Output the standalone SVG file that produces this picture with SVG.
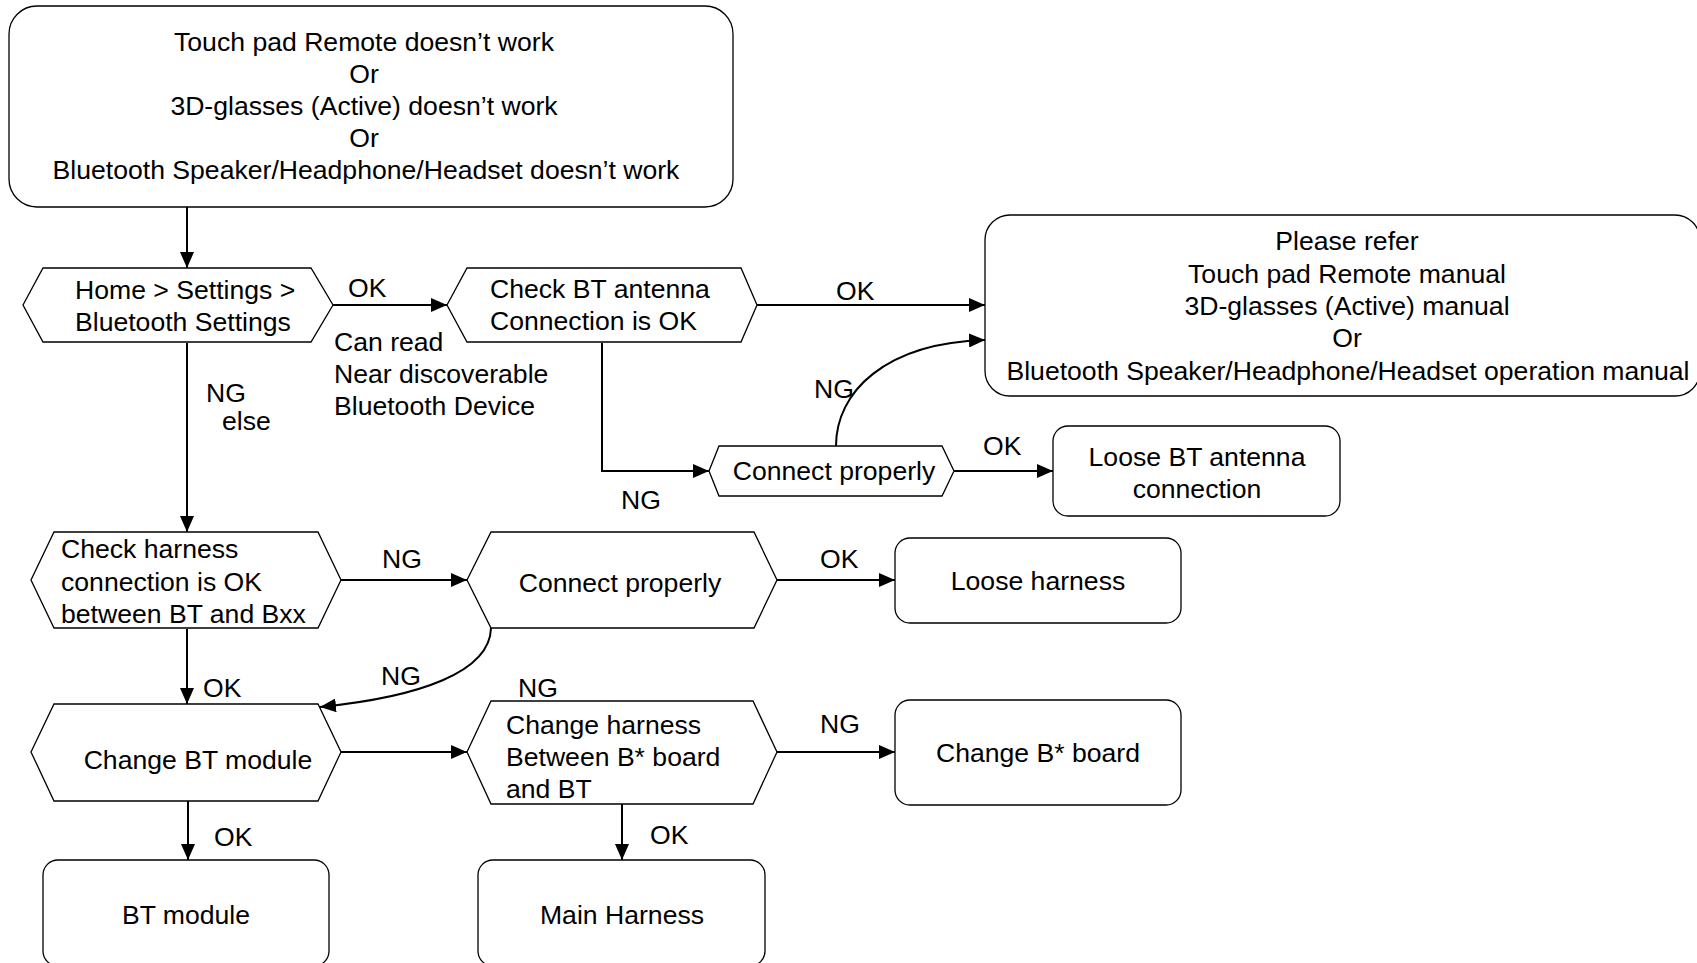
<svg xmlns="http://www.w3.org/2000/svg" width="1697" height="963" viewBox="0 0 1697 963">
<style>
.n{fill:#fff;stroke:#000;stroke-width:1.3}
.t{font-family:"Liberation Sans",Arial,sans-serif;font-size:26.6px;fill:#000}
.c{text-anchor:middle}
.e{fill:none;stroke:#000;stroke-width:2}
</style>
<defs>
<marker id="arr" markerWidth="16" markerHeight="14" refX="16" refY="7" orient="auto" markerUnits="userSpaceOnUse"><path d="M0,0 L16,7 L0,14 z" fill="#000"/></marker>
</defs>
<rect width="1697" height="963" fill="#fff"/>
<g id="connectors">
<path class="e" d="M187,207 L187,268" marker-end="url(#arr)"/>
<path class="e" d="M333,305 L447,305" marker-end="url(#arr)"/>
<path class="e" d="M757,305 L985,305" marker-end="url(#arr)"/>
<path class="e" d="M602,343 L602,471 L709,471" marker-end="url(#arr)"/>
<path class="e" d="M836,446 C836,392 885,343 985,340" marker-end="url(#arr)"/>
<path class="e" d="M954,471 L1053,471" marker-end="url(#arr)"/>
<path class="e" d="M187,343 L187,532" marker-end="url(#arr)"/>
<path class="e" d="M341,580 L467,580" marker-end="url(#arr)"/>
<path class="e" d="M777,580 L895,580" marker-end="url(#arr)"/>
<path class="e" d="M491,628 C490,672 420,697 320,707" marker-end="url(#arr)"/>
<path class="e" d="M187,629 L187,704" marker-end="url(#arr)"/>
<path class="e" d="M341,752 L467,752" marker-end="url(#arr)"/>
<path class="e" d="M777,752 L895,752" marker-end="url(#arr)"/>
<path class="e" d="M188,801 L188,860" marker-end="url(#arr)"/>
<path class="e" d="M622,804 L622,860" marker-end="url(#arr)"/>
<text class="t" x="348" y="297">OK</text>
<text class="t" x="334" y="351">Can read</text>
<text class="t" x="334" y="383">Near discoverable</text>
<text class="t" x="334" y="415">Bluetooth Device</text>
<text class="t" x="836" y="300">OK</text>
<text class="t" x="814" y="398">NG</text>
<text class="t" x="983" y="455">OK</text>
<text class="t" x="621" y="509">NG</text>
<text class="t" x="206" y="402">NG</text>
<text class="t" x="222" y="430">else</text>
<text class="t" x="382" y="568">NG</text>
<text class="t" x="820" y="568">OK</text>
<text class="t" x="203" y="697">OK</text>
<text class="t" x="381" y="685">NG</text>
<text class="t" x="518" y="697">NG</text>
<text class="t" x="820" y="733">NG</text>
<text class="t" x="214" y="846">OK</text>
<text class="t" x="650" y="844">OK</text>
</g>
<g id="start">
<rect class="n" x="9" y="6" width="724" height="201" rx="28"/>
<text class="t c" x="364" y="51">Touch pad Remote doesn’t work</text>
<text class="t c" x="364" y="83">Or</text>
<text class="t c" x="364" y="115">3D-glasses (Active) doesn’t work</text>
<text class="t c" x="364" y="147">Or</text>
<text class="t c" x="366" y="179">Bluetooth Speaker/Headphone/Headset doesn’t work</text>
</g>
<g id="home">
<polygon class="n" points="23,305 43,268 311,268 333,305 311,342 43,342"/>
<text class="t" x="75" y="299">Home &gt; Settings &gt;</text>
<text class="t" x="75" y="331">Bluetooth Settings</text>
</g>
<g id="check-antenna">
<polygon class="n" points="447,305 467,268 741,268 757,305 741,342 467,342"/>
<text class="t" x="490" y="298">Check BT antenna</text>
<text class="t" x="490" y="330">Connection is OK</text>
</g>
<g id="refer">
<rect class="n" x="985" y="215" width="715" height="181" rx="25"/>
<text class="t c" x="1347" y="250">Please refer</text>
<text class="t c" x="1347" y="283">Touch pad Remote manual</text>
<text class="t c" x="1347" y="315">3D-glasses (Active) manual</text>
<text class="t c" x="1347" y="347">Or</text>
<text class="t c" x="1348" y="380">Bluetooth Speaker/Headphone/Headset operation manual</text>
</g>
<g id="connect-antenna">
<polygon class="n" points="709,471 719,446 942,446 954,471 942,496 719,496"/>
<text class="t c" x="834" y="480">Connect properly</text>
</g>
<g id="loose-antenna">
<rect class="n" x="1053" y="426" width="287" height="90" rx="15"/>
<text class="t c" x="1197" y="466">Loose BT antenna</text>
<text class="t c" x="1197" y="498">connection</text>
</g>
<g id="check-harness">
<polygon class="n" points="31,580 54,532 318,532 341,580 318,628 54,628"/>
<text class="t" x="61" y="558">Check harness</text>
<text class="t" x="61" y="591">connection is OK</text>
<text class="t" x="61" y="623">between BT and Bxx</text>
</g>
<g id="connect-harness">
<polygon class="n" points="467,580 491,532 754,532 777,580 754,628 491,628"/>
<text class="t c" x="620" y="592">Connect properly</text>
</g>
<g id="loose-harness">
<rect class="n" x="895" y="538" width="286" height="85" rx="15"/>
<text class="t c" x="1038" y="590">Loose harness</text>
</g>
<g id="change-bt">
<polygon class="n" points="31,752 54,704 318,704 341,752 318,801 54,801"/>
<text class="t c" x="198" y="769">Change BT module</text>
</g>
<g id="change-harness">
<polygon class="n" points="467,752 491,701 753,701 777,752 753,804 491,804"/>
<text class="t" x="506" y="734">Change harness</text>
<text class="t" x="506" y="766">Between B* board</text>
<text class="t" x="506" y="798">and BT</text>
</g>
<g id="change-board">
<rect class="n" x="895" y="700" width="286" height="105" rx="15"/>
<text class="t c" x="1038" y="762">Change B* board</text>
</g>
<g id="bt-module">
<rect class="n" x="43" y="860" width="286" height="106" rx="15"/>
<text class="t c" x="186" y="924">BT module</text>
</g>
<g id="main-harness">
<rect class="n" x="478" y="860" width="287" height="106" rx="15"/>
<text class="t c" x="622" y="924">Main Harness</text>
</g>
</svg>
